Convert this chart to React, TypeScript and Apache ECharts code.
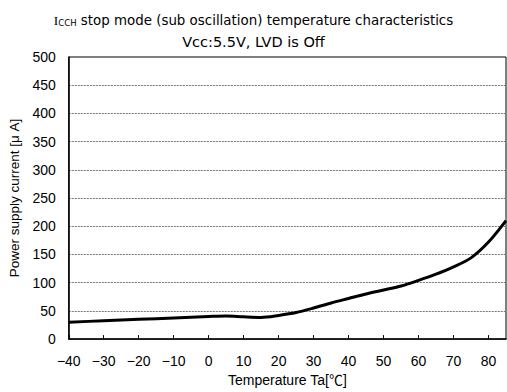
import React, { useEffect, useRef } from "react";
import * as echarts from "echarts";

const temps = [-40, -30, -20, -10, 0, 5, 10, 15, 20, 25, 30, 35, 40, 45, 50, 55, 60, 65, 70, 75, 80, 85];
const current = [30, 32.5, 35, 37.5, 40, 41, 39.5, 38.5, 42, 47, 55, 64, 72, 80, 87, 94, 104, 115, 128, 144, 172, 210];

const FONT = "'Liberation Sans', 'Noto Sans CJK JP', sans-serif";
const TFONT = "'DejaVu Sans', sans-serif";

export default function App() {
  const ref = useRef<HTMLDivElement>(null);
  useEffect(() => {
    const chart = echarts.init(ref.current!, null, { renderer: "svg" });
    chart.setOption({
      animation: false,
      backgroundColor: "#fff",
      textStyle: { fontFamily: FONT },
      title: [
        {
          text: "{i|I}{s|CCH}{m| stop mode (sub oscillation) temperature characteristics}",
          left: "center",
          top: 8,
          textStyle: {
            fontWeight: "normal",
            rich: {
              i: { fontSize: 13.4, color: "#000", fontFamily: "'Liberation Serif', serif", fontWeight: "normal" },
              m: { fontSize: 13.4, color: "#000", fontFamily: TFONT, fontWeight: "normal" },
              s: { fontSize: 8.5, color: "#000", fontFamily: TFONT, fontWeight: "normal", padding: [5, 0, 0, 0] },
            },
          },
        },
        {
          text: "Vcc:5.5V, LVD is Off",
          left: "center",
          top: 29,
          textStyle: { fontSize: 14.5, fontWeight: "normal", color: "#000", fontFamily: TFONT },
        },
      ],
      grid: {
        left: 64.7,
        right: 1,
        top: 57,
        bottom: 47,
        show: true,
        borderColor: "#000",
        borderWidth: 1,
      },
      xAxis: {
        type: "value",
        min: -40,
        max: 85,
        interval: 10,
        name: "Temperature Ta[℃]",
        nameLocation: "middle",
        nameGap: 30,
        nameTextStyle: { fontSize: 14, color: "#000", fontFamily: FONT },
        axisLine: { show: true, onZero: false, lineStyle: { color: "#000", width: 1.5 } },
        axisTick: { show: true, inside: true, length: 4, lineStyle: { color: "#000" } },
        axisLabel: {
          color: "#000",
          fontSize: 14,
          margin: 15,
          showMaxLabel: false,
          fontFamily: FONT,
          formatter: (v: number) => String(v).replace("-", "−"),
        },
        splitLine: { show: false },
      },
      yAxis: {
        type: "value",
        min: 0,
        max: 500,
        interval: 50,
        name: "Power supply current [μ A]",
        nameLocation: "middle",
        nameGap: 41,
        nameTextStyle: { fontSize: 13.5, color: "#000", fontFamily: FONT },
        axisLine: { show: true, onZero: false, lineStyle: { color: "#000", width: 1.5 } },
        axisTick: { show: false },
        axisLabel: { color: "#000", fontSize: 14, margin: 13, fontFamily: FONT },
        splitLine: {
          show: true,
          showMaxLine: false,
          lineStyle: { color: "#777", type: [2, 1], width: 1 },
        },
      },
      series: [
        {
          type: "line",
          data: temps.map((t, i) => [t, current[i]]),
          smooth: 0.3,
          showSymbol: false,
          lineStyle: { color: "#000", width: 3 },
        },
      ],
    });
    return () => chart.dispose();
  }, []);
  return <div ref={ref} style={{ position: "absolute", left: 0, top: 0, width: 507, height: 392 }} />;
}
